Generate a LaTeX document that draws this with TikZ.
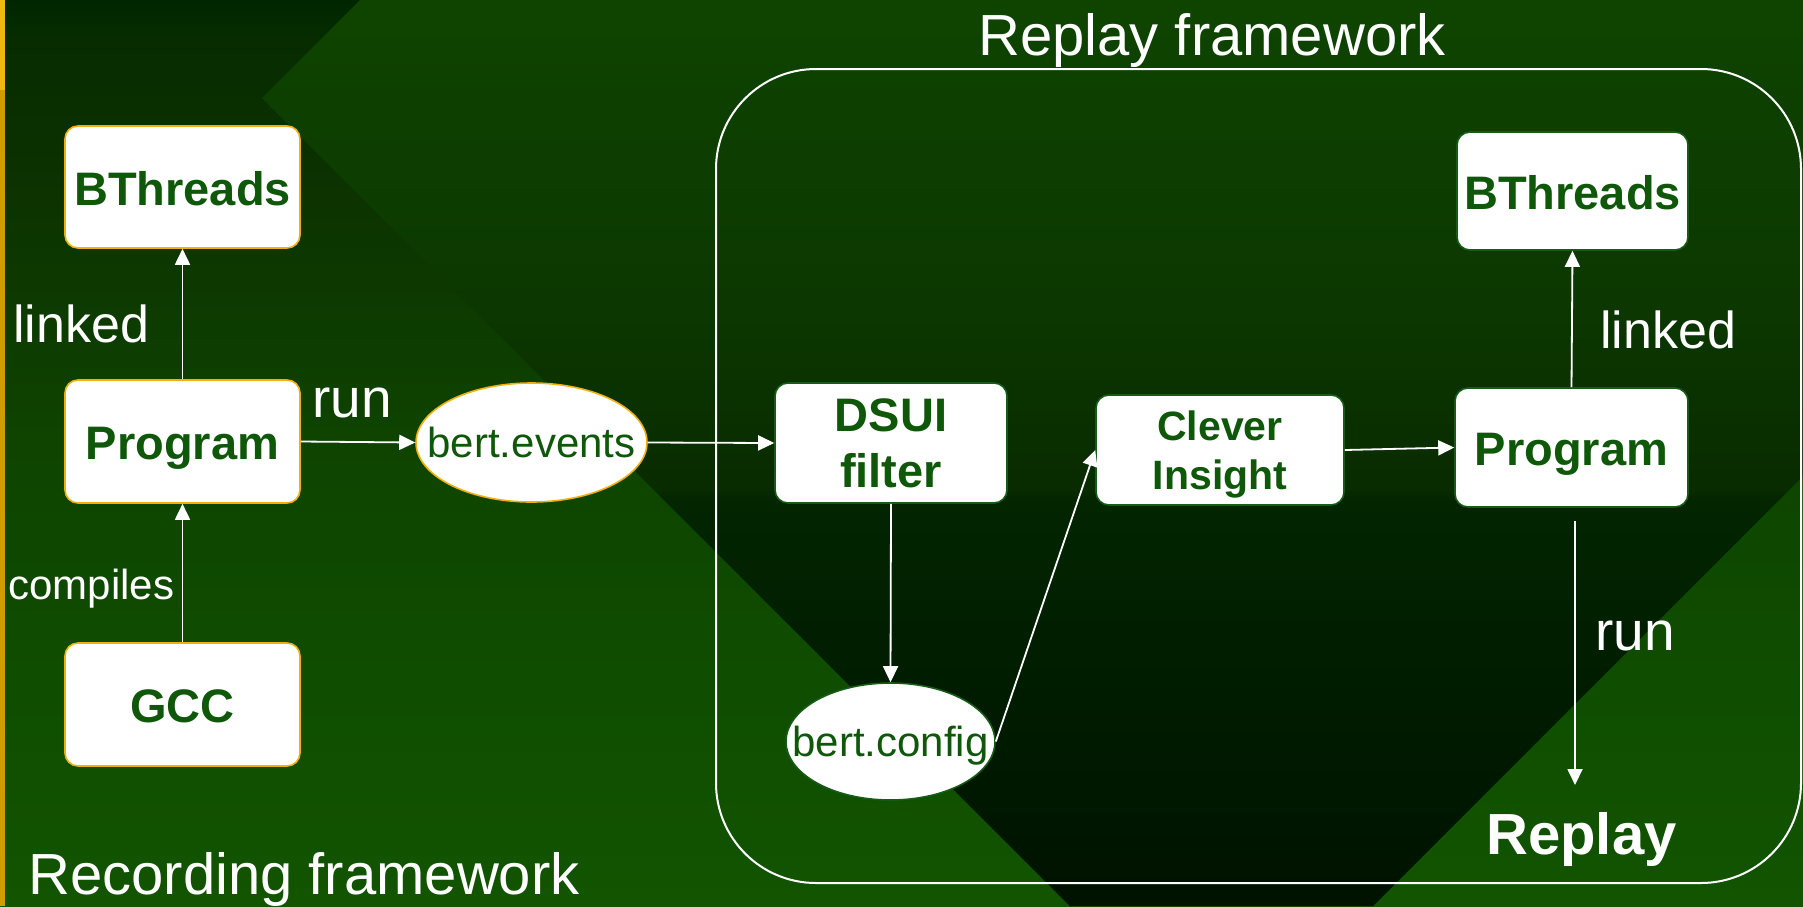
\documentclass[tikz,border=0pt]{standalone}
\usepackage{fontspec}
\setmainfont{Liberation Sans}
\usetikzlibrary{shapes.geometric,arrows.meta}

\definecolor{Lc0}{RGB}{18,84,0}
\definecolor{Lc1}{RGB}{15,78,0}
\definecolor{Lc2}{RGB}{14,68,0}
\definecolor{Lc3}{RGB}{13,58,0}
\definecolor{Lc4}{RGB}{11,48,0}
\definecolor{Lc5}{RGB}{6,44,0}
\definecolor{Lc6}{RGB}{0,38,0}
\definecolor{Wc0}{RGB}{0,18,0}
\definecolor{Wc1}{RGB}{0,28,0}
\definecolor{Wc2}{RGB}{3,37,0}
\definecolor{Wc3}{RGB}{8,43,0}
\definecolor{Wc4}{RGB}{12,56,0}
\definecolor{Wc5}{RGB}{14,68,0}
\definecolor{stripY}{RGB}{240,182,20}
\definecolor{stripD}{RGB}{208,156,0}
\definecolor{orangeB}{RGB}{240,176,16}
\definecolor{greenB}{RGB}{22,92,22}
\definecolor{txtG}{RGB}{15,88,10}

\pgfdeclareverticalshading{bgL}{100bp}{color(0bp)=(Lc0); color(25bp)=(Lc0); color(36.4bp)=(Lc1); color(50.2bp)=(Lc2); color(58.4bp)=(Lc3); color(66.7bp)=(Lc4); color(72.8bp)=(Lc5); color(75bp)=(Lc6); color(100bp)=(Lc6)}
\pgfdeclareverticalshading{bgW}{100bp}{color(0bp)=(Wc0); color(25bp)=(Wc0); color(36.4bp)=(Wc1); color(47.4bp)=(Wc2); color(47.96bp)=(Wc3); color(58.4bp)=(Wc4); color(75bp)=(Wc5); color(100bp)=(Wc5)}

\begin{document}
\begin{tikzpicture}[x=0.5pt,y=-0.5pt,
  lbox/.style={draw=orangeB, line width=0.8pt, fill=white, rounded corners=6.5pt,
    inner sep=0pt, text=txtG, font=\fontsize{23.5}{28}\selectfont\bfseries,
    text height=18pt, text depth=0pt},
  rbox/.style={draw=greenB, line width=0.8pt, fill=white, rounded corners=6.5pt,
    inner sep=0pt, text=txtG},
  ellnode/.style={ellipse, fill=white, line width=0.8pt, inner sep=0pt, text=txtG,
    font=\fontsize{21}{25}\selectfont, text height=15pt, text depth=0pt},
  lbl/.style={text=white, inner sep=0pt, anchor=base west},
  arr/.style={draw=white, line width=0.9pt, -{Triangle[length=8pt,width=7.5pt]}},
]
\useasboundingbox (0,0) rectangle (1803,906);
% background
\shade[shading=bgL] (0,0) rectangle (1803,906);
\begin{scope}
  \clip (360,0) -- (1803,0) -- (1803,476) -- (1373,906) -- (1070,906) -- (262,98) -- cycle;
  \shade[shading=bgW] (0,0) rectangle (1803,906);
\end{scope}
\fill[stripY] (0,0) rectangle (5,90);
\fill[stripD] (0,90) rectangle (5,906);

% replay frame
\node[draw=white, line width=1pt, rounded corners=50pt, minimum width=542.5pt,
  minimum height=407pt, inner sep=0pt] (rframe) at (1258.5,476) {};

% recording side
\node[lbox, minimum width=117.5pt, minimum height=61pt] (bth1) at (182.5,187) {BThreads};
\node[lbox, minimum width=117.5pt, minimum height=61.5pt] (prog1) at (182.5,441.5) {Program};
\node[lbox, minimum width=117.5pt, minimum height=61.5pt] (gcc) at (182.5,704.5) {GCC};
\node[ellnode, draw=orangeB, minimum width=115.5pt, minimum height=59.5pt] (ev) at (531.5,442.5) {\makebox[0pt]{bert.events}};

% replay side
\node[rbox, minimum width=116pt, minimum height=60pt, align=center,
  font=\fontsize{23.5}{28}\selectfont\bfseries, text height=44.8pt, text depth=0pt]
  (dsui) at (891,443) {DSUI\\filter};
\node[rbox, minimum width=124pt, minimum height=55pt, align=center,
  font=\fontsize{20.5}{24.5}\selectfont\bfseries, text height=39.2pt, text depth=0pt]
  (clever) at (1220,450) {Clever\\Insight};
\node[rbox, minimum width=116.5pt, minimum height=59.5pt,
  font=\fontsize{23.5}{28}\selectfont\bfseries, text height=18pt, text depth=0pt]
  (prog2) at (1571.5,447.5) {Program};
\node[rbox, minimum width=115.5pt, minimum height=59pt,
  font=\fontsize{23.5}{28}\selectfont\bfseries, text height=18pt, text depth=0pt]
  (bth2) at (1572.5,191) {BThreads};
\node[ellnode, draw=greenB, minimum width=104.5pt, minimum height=58.5pt] (cfg) at (890.5,741.5) {\makebox[0pt]{bert.config}};

% labels
\node[lbl, font=\fontsize{26}{31}\selectfont] (linkedL) at (13,342) {linked};
\node[lbl, font=\fontsize{21}{25}\selectfont] (compiles) at (8,599) {compiles};
\node[lbl, font=\fontsize{27.5}{33}\selectfont] (runL) at (312,417) {run};
\node[lbl, font=\fontsize{27.5}{33}\selectfont] (runR) at (1595,650) {run};
\node[lbl, font=\fontsize{26}{31}\selectfont] (linkedR) at (1600,348) {linked};
\node[lbl, font=\fontsize{29}{35}\selectfont] (recfw) at (28,894) {Recording framework};
\node[lbl, font=\fontsize{29}{35}\selectfont] (repfw) at (978,55) {Replay framework};
\node[lbl, font=\fontsize{29}{35}\selectfont\bfseries] (replay) at (1486,854) {Replay};

% connectors
\coordinate (runE) at (1575,785);
\draw[arr] (gcc) -- (prog1);
\draw[arr] (prog1) -- (bth1);
\draw[arr] (prog1.east) -- (ev.west);
\draw[arr] (ev.east) -- (dsui.west);
\draw[arr] (dsui.south) -- (cfg.north);
\draw[arr] (cfg.east) -- (clever.west);
\draw[arr] (clever.east) -- (prog2.west);
\draw[arr] (prog2.north) -- (bth2.south);
\draw[arr, shorten <=6.5pt] (prog2.south -| runE) -- (runE);
\end{tikzpicture}
\end{document}
